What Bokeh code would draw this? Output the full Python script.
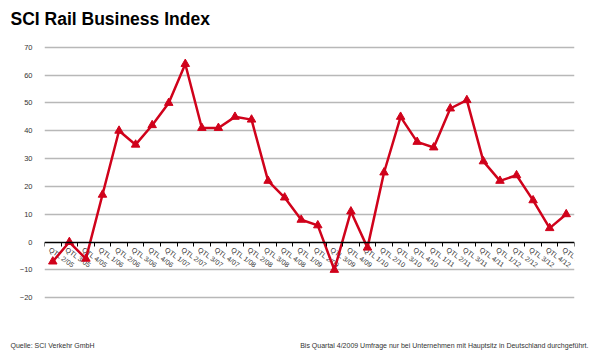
from bokeh.plotting import figure
from bokeh.layouts import column
from bokeh.models import Range1d, FixedTicker
from bokeh.core.properties import value
from bokeh.embed import file_html
from bokeh.resources import INLINE

quarters = [
    "QTL 2/05", "QTL 3/05", "QTL 4/05",
    "QTL 1/06", "QTL 2/06", "QTL 3/06", "QTL 4/06",
    "QTL 1/07", "QTL 2/07", "QTL 3/07", "QTL 4/07",
    "QTL 1/08", "QTL 2/08", "QTL 3/08", "QTL 4/08",
    "QTL 1/09", "QTL 2/09", "QTL 3/09", "QTL 4/09",
    "QTL 1/10", "QTL 2/10", "QTL 3/10", "QTL 4/10",
    "QTL 1/11", "QTL 2/11", "QTL 3/11", "QTL 4/11",
    "QTL 1/12", "QTL 2/12", "QTL 3/12", "QTL 4/12",
    "QTL 1/13",
]
index_values = [-7, 0, -6, 17, 40, 35, 42, 50, 64, 41, 41, 45, 44, 22, 16, 8,
                6, -10, 11, -2, 25, 45, 36, 34, 48, 51, 29, 22, 24, 15, 5, 10]
y_ticks = [-20, -10, 0, 10, 20, 30, 40, 50, 60, 70]

title_text = "SCI Rail Business Index"
source_text = "Quelle: SCI Verkehr GmbH"
note_text = "Bis Quartal 4/2009 Umfrage nur bei Unternehmen mit Hauptsitz in Deutschland durchgeführt."

RED = "#d0021b"
FONT = "Liberation Sans"
W = 600


def text_strip(height):
    f = figure(width=W, height=height, output_backend="svg", toolbar_location=None,
               x_range=Range1d(0, W), y_range=Range1d(0, height),
               x_axis_type=None, y_axis_type=None,
               min_border=0, min_border_left=0, min_border_right=0,
               min_border_top=0, min_border_bottom=0)
    f.outline_line_color = None
    f.xgrid.visible = False
    f.ygrid.visible = False
    f.frame_align = False
    return f


# header with the title
header = text_strip(30)
header.text(x=[10], y=[11.5], text=[title_text], text_font=value(FONT),
            text_font_size="17.5px", text_font_style="bold", text_color="black",
            text_baseline="alphabetic", text_align="left")

# main chart
n = len(quarters)
xs = [i + 0.5 for i in range(n)]
zeros = [0] * n

p = figure(width=W, height=304, output_backend="svg", toolbar_location=None,
           x_range=Range1d(0, n), y_range=Range1d(-21, 71),
           min_border_left=44, min_border_right=26, min_border_top=14, min_border_bottom=34)
p.outline_line_color = None
p.frame_align = False

p.xgrid.visible = False
p.ygrid.ticker = FixedTicker(ticks=[t for t in y_ticks if t != 0])
p.ygrid.grid_line_color = "#b8b8b8"
p.ygrid.grid_line_width = 1.3

p.yaxis.ticker = FixedTicker(ticks=y_ticks)
p.yaxis.axis_line_color = None
p.yaxis.major_tick_line_color = None
p.yaxis.minor_tick_line_color = None
p.yaxis.major_label_text_font = FONT
p.yaxis.major_label_text_font_size = "7.5px"
p.yaxis.major_label_text_color = "#333333"
p.yaxis.major_label_standoff = 6

p.xaxis.ticker = FixedTicker(ticks=list(range(n + 1)))
p.xaxis.fixed_location = 0
p.xaxis.major_label_overrides = {i: "" for i in range(n + 1)}
p.xaxis.axis_line_color = "black"
p.xaxis.axis_line_width = 1.5
p.xaxis.major_tick_line_color = "black"
p.xaxis.major_tick_line_width = 1
p.xaxis.major_tick_out = 4
p.xaxis.major_tick_in = 0
p.xaxis.minor_tick_line_color = None

p.text(x=xs, y=zeros, text=quarters, angle=-0.62, text_align="left", text_baseline="top",
       x_offset=-1, y_offset=4, text_font=value(FONT), text_font_size="7px",
       text_color="#333333")

p.line(xs, index_values, line_color=RED, line_width=2.5)
p.scatter(xs, index_values, marker="triangle", size=8.5, fill_color=RED, line_color=RED)

# footer with source and note
footer = text_strip(22)
footer.text(x=[10], y=[11.5], text=[source_text], text_font=value(FONT),
            text_font_size="7px", text_color="#333333",
            text_baseline="alphabetic", text_align="left")
footer.text(x=[588], y=[11.5], text=[note_text], text_font=value(FONT),
            text_font_size="7px", text_color="#333333",
            text_baseline="alphabetic", text_align="right")

layout = column(header, p, footer, spacing=0)
open("out.html", "w").write(file_html(layout, INLINE))
